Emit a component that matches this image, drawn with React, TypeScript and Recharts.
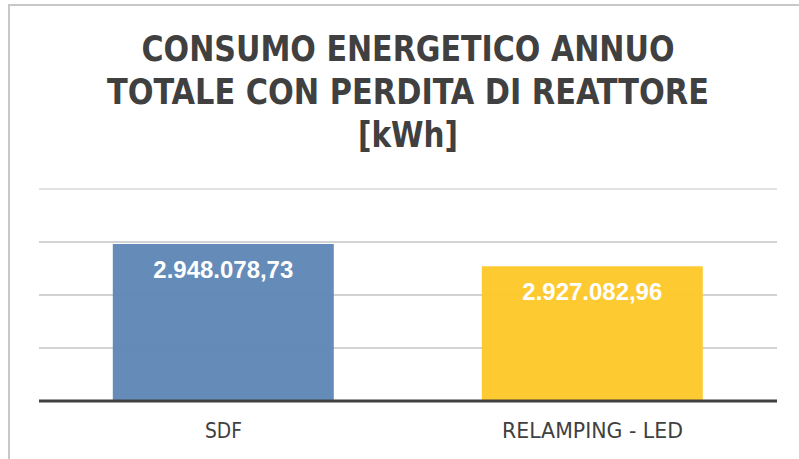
import React from 'react';
import { BarChart, Bar, XAxis, YAxis, CartesianGrid, ReferenceLine, LabelList, Cell } from 'recharts';

const categories = ['SDF', 'RELAMPING - LED'];
const consumi = [2948078.73, 2927082.96];
const barColors = ['#6088b6', '#fec82a'];
const yTicks = [2800000, 2850000, 2900000, 2950000, 3000000];
const titleLines = ['CONSUMO ENERGETICO ANNUO', 'TOTALE CON PERDITA DI REATTORE', '[kWh]'];

const data = categories.map((name, i) => ({ name, value: consumi[i] }));

// 2948078.73 -> "2.948.078,73"
const fmtIt = (v: number) => {
  const [int, dec] = v.toFixed(2).split('.');
  return int.replace(/\B(?=(\d{3})+(?!\d))/g, '.') + ',' + dec;
};

const FONT = '"DejaVu Sans Condensed", "DejaVu Sans", sans-serif';

const ValueLabel = (props: any) => {
  const { x, y, width, value } = props;
  return (
    <text
      x={x + width / 2}
      y={y + 34}
      textAnchor="middle"
      fill="#ffffff"
      fontFamily='"Liberation Sans", Arial, sans-serif'
      fontWeight="bold"
      fontSize={23}
      textLength={140}
      lengthAdjust="spacingAndGlyphs"
    >
      {fmtIt(value)}
    </text>
  );
};

const CatTick = (props: any) => {
  const { x, y, payload } = props;
  const len = payload.value === 'SDF' ? 37 : 181;
  return (
    <text
      x={x}
      y={y}
      dy={29}
      textAnchor="middle"
      fill="#404040"
      fontFamily={FONT}
      fontSize={21}
      textLength={len}
      lengthAdjust="spacingAndGlyphs"
    >
      {payload.value}
    </text>
  );
};

export default function App() {
  const titleLens = [533, 602, 100];
  return (
    <div style={{ position: 'absolute', left: 0, top: 0, width: 799, height: 459, background: '#fff' }}>
      <div
        style={{
          position: 'absolute',
          left: 8,
          top: 4,
          width: 791,
          height: 455,
          borderTop: '2px solid #c8c8c8',
          borderLeft: '2px solid #c8c8c8',
        }}
      />
      <svg width={799} height={170} style={{ position: 'absolute', left: 0, top: 0 }}>
        {titleLines.map((line, i) => (
          <text
            key={line}
            x={408}
            y={61 + i * 43}
            textAnchor="middle"
            fill="#404040"
            fontFamily={FONT}
            fontWeight="bold"
            fontSize={36}
            textLength={titleLens[i]}
            lengthAdjust="spacingAndGlyphs"
          >
            {line}
          </text>
        ))}
      </svg>
      <div style={{ position: 'absolute', left: 0, top: 0 }}>
        <BarChart
          width={799}
          height={459}
          data={data}
          margin={{ top: 189, right: 22, bottom: 18, left: 39 }}
          barCategoryGap="20%"
        >
          <CartesianGrid vertical={false} stroke="#c4c4c4" strokeWidth={1.5} />
          <YAxis hide domain={[2800000, 3000000]} ticks={yTicks} allowDataOverflow />
          <ReferenceLine y={3000000} stroke="#e2e2e2" strokeWidth={2} />
          <Bar dataKey="value" isAnimationActive={false} fillOpacity={0.97}>
            {data.map((d, i) => (
              <Cell key={d.name} fill={barColors[i]} />
            ))}
            <LabelList dataKey="value" content={ValueLabel} />
          </Bar>
          <XAxis
            dataKey="name"
            height={40}
            tickLine={false}
            axisLine={{ stroke: '#404040', strokeWidth: 3 }}
            tick={CatTick}
            interval={0}
          />
        </BarChart>
      </div>
    </div>
  );
}
